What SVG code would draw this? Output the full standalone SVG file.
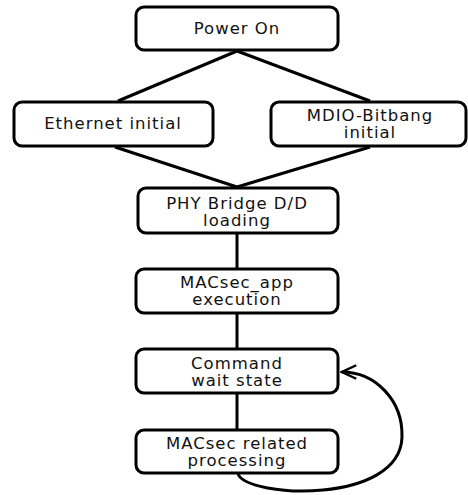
<svg xmlns="http://www.w3.org/2000/svg" width="468" height="495" viewBox="0 0 468 495">
<style>
.box{fill:#fff;stroke:#000;stroke-width:3}
.t{font-family:"DejaVu Sans","Noto Sans",sans-serif;font-size:16.5px;letter-spacing:1px;fill:#111;text-anchor:middle}
.c{fill:none;stroke:#000;stroke-width:3}
</style>
<defs>
<marker id="arr" viewBox="0 0 12 12" refX="10.5" refY="6" markerWidth="6" markerHeight="6" orient="auto" markerUnits="strokeWidth">
<path d="M1 1.5 L10.5 6 L1 10.5" fill="none" stroke="#000" stroke-width="1.6"/>
</marker>
</defs>
<g id="power-on"><rect class="box" x="136" y="7" width="202" height="43" rx="8"/><text class="t" x="237" y="34">Power On</text></g>
<g id="ethernet-initial"><rect class="box" x="14" y="102" width="199" height="44" rx="8"/><text class="t" x="113" y="129">Ethernet initial</text></g>
<g id="mdio-initial"><rect class="box" x="271" y="102" width="195" height="44" rx="8"/><text class="t" x="370" y="121">MDIO-Bitbang</text><text class="t" x="370" y="138">initial</text></g>
<g id="phy-bridge"><rect class="box" x="138" y="188" width="200" height="45" rx="8"/><text class="t" x="237" y="209">PHY Bridge D/D</text><text class="t" x="237" y="226">loading</text></g>
<g id="macsec-app"><rect class="box" x="136" y="269" width="202" height="44" rx="8"/><text class="t" x="237" y="288">MACsec_app</text><text class="t" x="237" y="305">execution</text></g>
<g id="command-wait"><rect class="box" x="136" y="349" width="202" height="44" rx="8"/><text class="t" x="237" y="369">Command</text><text class="t" x="237" y="386">wait state</text></g>
<g id="macsec-related"><rect class="box" x="136" y="430" width="202" height="43" rx="8"/><text class="t" x="237" y="449">MACsec related</text><text class="t" x="237" y="466">processing</text></g>
<g id="connectors">
<line class="c" x1="237" y1="51" x2="118" y2="101"/>
<line class="c" x1="237" y1="51" x2="370" y2="101"/>
<line class="c" x1="115" y1="147" x2="237" y2="187"/>
<line class="c" x1="370" y1="147" x2="237" y2="187"/>
<line class="c" x1="237" y1="234" x2="237" y2="268"/>
<line class="c" x1="237" y1="314" x2="237" y2="348"/>
<line class="c" x1="237" y1="394" x2="237" y2="429"/>
<path class="c" d="M238 474 C248 498 400 505 402 437 C403 400 375 372 342 372" marker-end="url(#arr)"/>
</g>
</svg>
